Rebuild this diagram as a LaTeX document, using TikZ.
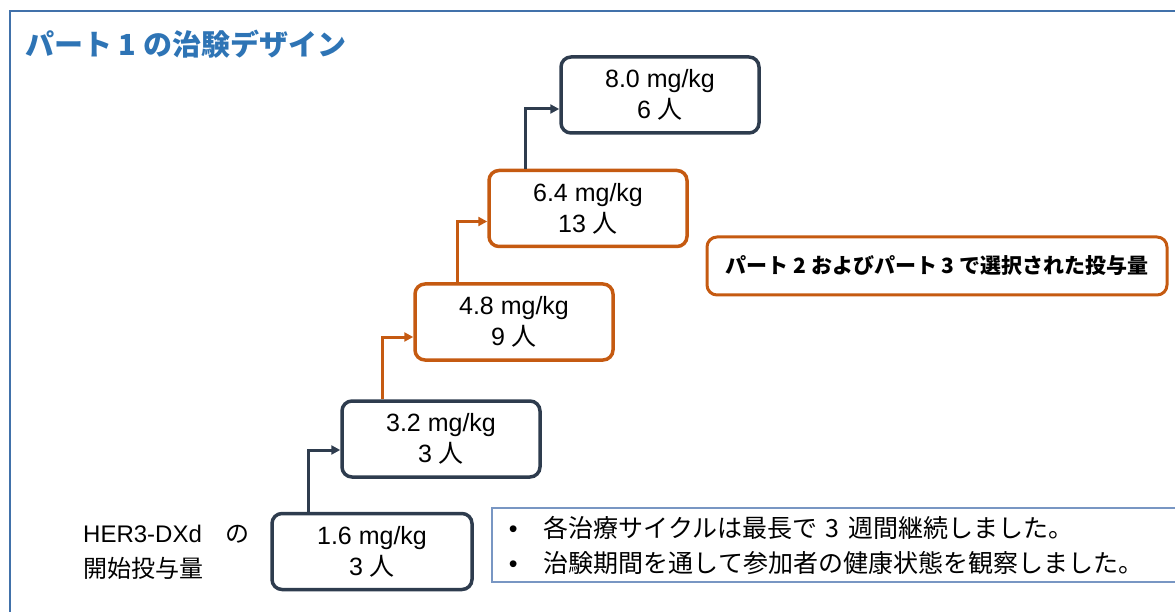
\documentclass[tikz,border=0pt]{standalone}
\usepackage{fontspec}
\setmainfont{Liberation Sans}
\newfontfamily\jp{Noto Sans CJK JP}
\usetikzlibrary{arrows.meta,calc}
\definecolor{navy}{RGB}{46,60,78}
\definecolor{orng}{RGB}{197,90,17}
\definecolor{frameblue}{RGB}{65,113,170}
\definecolor{infoblue}{RGB}{120,150,195}
\definecolor{titleblue}{RGB}{46,116,181}
\tikzset{
  dose/.style={rounded corners=10pt, line width=3.5pt, minimum width=198pt, minimum height=76pt,
    align=center, fill=white, font=\fontsize{25}{31}\selectfont},
  navybox/.style={dose, draw=navy},
  orbox/.style={dose, draw=orng},
  conn/.style={line width=3pt, -{Triangle[length=9pt,width=9pt]}},
}
\begin{document}
\begin{tikzpicture}[x=1pt,y=-1pt]
\useasboundingbox (0,0) rectangle (1175,612);
\draw[frameblue, line width=2.5pt] (10,620) -- (10,11) -- (1180,11);

\node[anchor=west, inner sep=0, text=titleblue, font=\jp\bfseries\fontsize{29}{32}\selectfont] (title) at (25,44) {パート 1 の治験デザイン};

\node[navybox] (b80) at (660,95) {8.0 mg/kg\\6 {\jp 人}};
\node[orbox] (b64) at (588,208.5) {6.4 mg/kg\\13 {\jp 人}};
\node[orbox] (b48) at (514,322) {4.8 mg/kg\\9 {\jp 人}};
\node[navybox] (b32) at (441,439) {3.2 mg/kg\\3 {\jp 人}};
\node[navybox, minimum width=200pt] (b16) at (372,551.5) {1.6 mg/kg\\3 {\jp 人}};

\draw[conn, navy] ($(b16.north west)+(38,0)$) |- ([yshift=-11pt]b32.west);
\draw[conn, orng] ($(b32.north west)+(42,0)$) |- ([yshift=-15pt]b48.west);
\draw[conn, orng] ($(b48.north west)+(44,0)$) |- ([yshift=-13pt]b64.west);
\draw[conn, navy] ($(b64.north west)+(38,0)$) |- ([yshift=-14pt]b80.west);

\node[draw=orng, line width=3pt, rounded corners=10pt, minimum width=460pt, minimum height=58pt,
  font=\jp\bfseries\fontsize{21}{24}\selectfont] (sel) at (937,266) {パート 2 およびパート 3 で選択された投与量};

\node[anchor=west, inner sep=0, align=left, font=\fontsize{24}{35}\selectfont] (lbl) at (83,552)
  {HER3-DXd\hspace{24pt}{\jp の}\\{\jp 開始投与量}};

\node[draw=infoblue, line width=1.5pt, anchor=west, inner xsep=17pt, inner ysep=3pt, text width=660pt,
  minimum height=74pt, align=left, font=\fontsize{25}{35}\selectfont] (info) at (491,545)
  {\makebox[35pt][l]{•}{\jp 各治療サイクルは最長で 3 週間継続しました。}\\
   \makebox[35pt][l]{•}{\jp 治験期間を通して参加者の健康状態を観察しました。}};
\end{tikzpicture}
\end{document}
